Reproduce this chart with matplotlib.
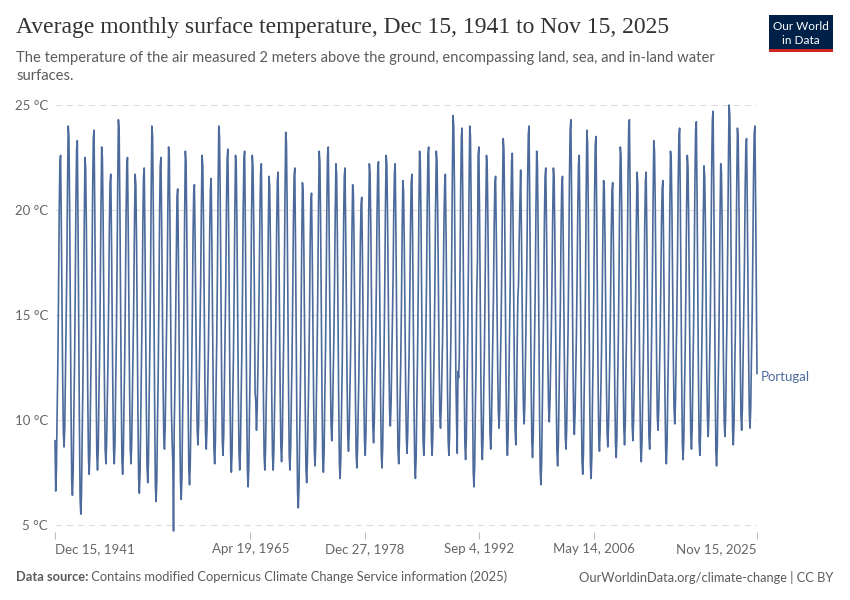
import matplotlib
matplotlib.use("Agg")
import matplotlib.pyplot as plt
import matplotlib.dates as mdates
from matplotlib.patches import Rectangle
import pandas as pd
import numpy as np

# ---------------- data (monthly mean surface temperature, Portugal, °C) ----------------
temps_1940s = [
    9.0,
    6.6, 7.6, 10.1, 12.4, 15.6, 19.7, 22.2, 22.6, 19.5, 15.6, 12.0, 9.4,
    8.7, 9.7, 12.0, 14.2, 17.2, 21.2, 24.0, 23.5, 20.1, 15.2, 10.6, 7.1,
    6.4, 7.4, 10.1, 12.5, 15.9, 20.3, 22.9, 23.3, 19.4, 14.4, 9.8, 6.2,
    5.5, 6.5, 9.2, 11.6, 15.0, 19.4, 22.5, 22.0, 19.2, 15.0, 11.1, 8.2,
    7.4, 8.4, 11.0, 13.3, 16.6, 20.9, 23.4, 23.8, 20.2, 15.7, 11.5, 8.3,
    7.6, 8.6, 11.0, 13.1, 16.2, 20.2, 23.0, 22.5, 19.7, 15.4, 11.5, 8.6,
    7.9, 8.9, 10.9, 12.8, 15.6, 19.2, 21.3, 21.7, 18.7, 14.8, 11.2, 8.6,
    7.9, 8.9, 11.5, 13.8, 17.1, 21.3, 24.3, 23.8, 20.5, 15.8, 11.4, 8.1,
]
temps_1950s = [
    7.4, 8.4, 10.7, 12.8, 15.9, 19.8, 22.1, 22.5, 19.3, 15.2, 11.4, 8.6,
    7.9, 8.9, 10.9, 12.8, 15.6, 19.2, 21.7, 21.2, 18.4, 14.1, 10.2, 7.2,
    6.5, 7.5, 9.9, 12.1, 15.2, 19.2, 21.6, 22.0, 18.7, 14.5, 10.6, 7.8,
    7.0, 8.0, 10.8, 13.2, 16.5, 21.0, 24.0, 23.5, 20.1, 15.1, 10.4, 6.8,
    6.1, 7.1, 9.7, 12.0, 15.3, 19.6, 22.1, 22.5, 19.4, 15.5, 11.9, 9.3,
    8.6, 9.6, 11.7, 13.8, 16.6, 20.4, 23.0, 22.5, 19.0, 14.5, 10.5, 9.0,
    8.0, 4.7, 9.5, 11.5, 14.5, 18.0, 20.6, 21.0, 17.8, 13.6, 9.8, 7.0,
    6.2, 7.2, 9.9, 12.2, 15.5, 19.8, 22.8, 22.3, 19.3, 14.9, 10.7, 7.6,
    6.9, 7.9, 10.1, 12.0, 14.9, 18.6, 20.8, 21.2, 18.5, 15.0, 11.8, 9.5,
    8.8, 9.8, 11.8, 13.8, 16.5, 20.1, 22.6, 22.1, 19.5, 15.6, 11.9, 9.3,
]
temps_1960s = [
    8.6, 9.6, 11.4, 13.2, 15.8, 19.1, 21.0, 21.5, 18.5, 14.7, 11.1, 8.6,
    7.9, 8.9, 11.4, 13.7, 16.9, 21.1, 24.0, 23.5, 20.6, 16.2, 12.1, 9.0,
    8.3, 9.3, 11.5, 13.6, 16.5, 20.3, 22.5, 22.9, 19.5, 15.2, 11.2, 8.3,
    7.5, 8.5, 10.9, 13.0, 16.0, 19.9, 22.6, 22.1, 19.3, 15.1, 11.2, 8.4,
    7.6, 8.6, 11.0, 13.1, 16.1, 20.1, 22.4, 22.8, 19.3, 14.8, 10.7, 7.6,
    6.8, 7.8, 10.3, 12.5, 15.7, 19.8, 22.6, 22.1, 19.7, 16.1, 11.3, 10.9,
    9.5, 10.5, 12.3, 14.1, 16.6, 19.9, 21.8, 22.2, 19.0, 14.9, 11.1, 8.3,
    7.6, 8.6, 10.7, 12.6, 15.4, 19.1, 21.6, 21.1, 18.5, 14.6, 11.0, 8.3,
    7.6, 8.6, 10.7, 12.7, 15.6, 19.2, 21.4, 21.8, 18.8, 14.9, 11.3, 8.7,
    8.0, 9.0, 11.5, 13.7, 16.8, 20.9, 23.7, 23.2, 20.2, 15.7, 11.5, 8.3,
]
temps_1970s = [
    7.6, 8.6, 10.8, 12.8, 15.7, 19.4, 21.6, 22.0, 18.4, 13.9, 9.7, 6.5,
    5.8, 6.8, 9.2, 11.4, 14.5, 18.5, 21.3, 20.8, 18.2, 14.2, 10.4, 7.7,
    7.0, 8.0, 10.0, 12.0, 14.7, 18.3, 20.4, 20.8, 17.9, 14.3, 10.9, 8.5,
    7.8, 8.8, 11.1, 13.2, 16.2, 20.1, 22.8, 22.3, 19.4, 15.2, 11.2, 8.2,
    7.5, 8.5, 10.9, 13.1, 16.2, 20.2, 22.6, 23.0, 19.9, 16.0, 12.4, 9.8,
    9.0, 10.0, 11.9, 13.8, 16.4, 19.8, 22.2, 21.7, 18.9, 14.7, 10.8, 7.9,
    7.2, 8.2, 10.4, 12.5, 15.5, 19.3, 21.6, 22.0, 19.0, 15.3, 11.7, 9.2,
    8.5, 9.5, 11.3, 13.1, 15.6, 19.0, 21.2, 20.8, 18.3, 14.5, 11.0, 8.4,
    7.7, 8.7, 10.5, 12.3, 14.9, 18.3, 20.2, 20.6, 17.9, 14.5, 11.3, 9.0,
    8.3, 9.3, 11.4, 13.3, 16.1, 19.7, 22.2, 21.7, 19.3, 15.6, 12.1, 9.6,
]
temps_1980s = [
    8.9, 9.9, 11.9, 13.7, 16.4, 19.9, 21.9, 22.3, 19.1, 15.0, 11.2, 8.4,
    7.7, 8.7, 11.0, 13.1, 16.1, 20.0, 22.6, 22.2, 19.8, 16.2, 12.8, 10.4,
    9.7, 10.7, 12.5, 14.2, 16.7, 20.0, 21.8, 22.2, 19.1, 15.1, 11.3, 8.6,
    7.9, 8.9, 10.9, 12.7, 15.4, 18.9, 21.4, 20.9, 18.5, 14.9, 11.6, 9.2,
    8.4, 9.4, 11.4, 13.2, 15.9, 19.3, 21.3, 21.7, 18.5, 14.4, 10.6, 7.9,
    7.2, 8.2, 10.6, 12.8, 15.9, 20.0, 22.8, 22.3, 19.6, 15.6, 11.8, 9.0,
    8.3, 9.3, 11.5, 13.6, 16.5, 20.4, 22.6, 23.0, 19.8, 15.7, 11.8, 9.0,
    8.3, 9.3, 11.5, 13.5, 16.4, 20.2, 22.8, 22.3, 19.9, 16.2, 12.8, 10.3,
    9.6, 10.6, 12.3, 13.9, 16.4, 19.5, 21.2, 21.7, 18.7, 15.0, 11.5, 9.0,
    8.3, 9.3, 11.9, 14.2, 17.4, 21.6, 24.5, 24.0, 21.0, 16.4, 12.2, 10.0,
]
temps_1990s = [
    8.4, 12.3, 12.0, 13.0, 17.1, 21.1, 23.5, 23.9, 20.4, 16.0, 11.9, 8.8,
    8.1, 9.1, 11.6, 13.8, 17.0, 21.1, 24.0, 23.5, 20.2, 15.4, 10.9, 7.5,
    6.8, 7.8, 10.4, 12.7, 16.0, 17.6, 22.6, 23.0, 19.8, 15.6, 11.7, 8.8,
    8.1, 9.1, 11.3, 13.3, 16.2, 20.0, 22.6, 22.1, 19.5, 15.6, 12.0, 9.4,
    8.6, 9.6, 11.5, 13.3, 15.9, 19.2, 21.2, 21.6, 18.9, 15.6, 12.5, 10.4,
    9.6, 10.6, 12.7, 14.6, 17.4, 20.9, 23.4, 22.9, 20.1, 15.9, 11.9, 9.0,
    8.3, 9.3, 11.5, 13.5, 16.4, 20.1, 22.3, 22.7, 19.6, 15.8, 12.1, 9.5,
    8.8, 10.5, 13.5, 15.8, 16.5, 18.8, 20.5, 21.9, 19.2, 15.8, 12.7, 10.5,
    9.8, 10.8, 12.9, 14.9, 17.7, 21.4, 23.6, 24.0, 20.5, 16.1, 12.0, 9.0,
    8.2, 9.2, 11.4, 13.5, 16.4, 20.2, 22.8, 22.3, 19.3, 14.9, 10.7, 7.6,
]
temps_2000s = [
    6.9, 7.9, 10.2, 12.3, 15.4, 19.3, 21.6, 22.0, 19.3, 16.0, 12.8, 10.6,
    9.9, 10.9, 12.6, 14.3, 16.7, 19.8, 22.0, 21.5, 18.9, 14.9, 11.2, 8.5,
    7.8, 8.8, 10.8, 12.8, 15.5, 19.2, 21.2, 21.6, 18.8, 15.1, 11.7, 9.2,
    8.6, 9.6, 12.0, 14.2, 17.4, 21.5, 23.8, 24.3, 21.0, 16.8, 12.9, 10.0,
    9.3, 10.3, 12.2, 14.1, 16.8, 20.2, 22.2, 22.6, 19.2, 15.0, 11.0, 8.0,
    7.4, 8.4, 11.0, 13.2, 16.5, 20.8, 23.8, 23.2, 20.1, 15.5, 11.2, 7.9,
    7.2, 8.2, 10.8, 13.1, 16.3, 20.6, 23.1, 23.5, 20.2, 16.0, 12.1, 9.2,
    8.5, 9.5, 11.3, 13.2, 15.8, 19.1, 21.4, 21.0, 18.6, 15.1, 11.8, 9.4,
    8.7, 9.7, 11.5, 13.2, 15.8, 19.0, 20.9, 21.3, 18.4, 14.8, 11.3, 8.9,
    8.2, 9.2, 11.5, 13.6, 16.5, 20.4, 23.0, 22.5, 19.9, 16.0, 12.3, 9.6,
]
temps_2010s = [
    8.8, 9.8, 12.3, 14.4, 17.5, 21.5, 23.9, 24.3, 20.9, 16.7, 12.7, 9.7,
    9.0, 10.0, 11.8, 13.6, 16.1, 19.5, 21.8, 21.2, 18.7, 14.9, 11.3, 8.7,
    8.0, 9.0, 11.0, 13.0, 15.7, 19.3, 21.4, 21.8, 18.8, 15.2, 11.7, 9.2,
    8.6, 9.6, 11.8, 13.9, 16.8, 20.6, 23.3, 22.8, 20.3, 16.4, 12.8, 10.2,
    9.5, 10.5, 12.1, 13.8, 16.2, 19.3, 21.0, 21.4, 18.4, 14.7, 11.1, 8.6,
    7.9, 8.9, 11.2, 13.3, 16.2, 20.1, 22.8, 22.3, 20.0, 16.3, 13.0, 10.6,
    9.8, 10.8, 12.9, 14.9, 17.7, 21.4, 23.5, 23.9, 20.4, 16.0, 11.9, 8.8,
    8.1, 9.1, 11.3, 13.3, 16.2, 20.0, 22.6, 22.1, 19.5, 15.6, 12.0, 9.3,
    8.6, 9.6, 12.0, 14.2, 17.3, 21.4, 23.8, 24.2, 20.7, 16.2, 12.1, 9.0,
    8.3, 9.3, 11.3, 13.3, 16.0, 19.6, 22.1, 21.6, 19.3, 15.7, 12.3, 10.0,
]
temps_2020s = [
    9.2, 10.2, 12.7, 14.8, 17.9, 21.9, 24.3, 24.7, 21.0, 16.3, 11.9, 8.5,
    7.8, 8.8, 11.0, 13.0, 15.9, 19.7, 22.2, 21.8, 19.4, 15.7, 12.3, 9.9,
    9.2, 10.2, 12.7, 14.9, 18.1, 22.2, 25.0, 24.5, 21.4, 16.9, 12.7, 9.5,
    8.8, 9.8, 12.1, 14.2, 17.3, 21.2, 23.9, 23.4, 20.7, 16.7, 13.0, 10.2,
    9.5, 10.5, 12.6, 14.5, 17.3, 20.9, 23.0, 23.4, 20.4, 16.5, 12.9, 10.3,
    9.6, 10.6, 12.8, 14.8, 17.7, 21.4, 23.6, 24.0, 20.5, 16.5, 12.2,
]
series_name = "Portugal"
start_date = "1941-12-15"
end_date = "2025-11-15"
tick_dates = ["1941-12-15", "1965-04-19", "1978-12-27", "1992-09-04", "2006-05-14", "2025-11-15"]
tick_labels = ["Dec 15, 1941", "Apr 19, 1965", "Dec 27, 1978", "Sep 4, 1992", "May 14, 2006", "Nov 15, 2025"]
y_ticks = [5, 10, 15, 20, 25]
y_tick_labels = ["5 °C", "10 °C", "15 °C", "20 °C", "25 °C"]

title = "Average monthly surface temperature, Dec 15, 1941 to Nov 15, 2025"
subtitle_1 = "The temperature of the air measured 2 meters above the ground, encompassing land, sea, and in-land water"
subtitle_2 = "surfaces."
source_bold = "Data source:"
source_rest = " Contains modified Copernicus Climate Change Service information (2025)"
footer_right = "OurWorldinData.org/climate-change | CC BY"

# ---------------- build ----------------
values = np.array(temps_1940s + temps_1950s + temps_1960s + temps_1970s + temps_1980s
                  + temps_1990s + temps_2000s + temps_2010s + temps_2020s)
dates = pd.date_range("1941-12-01", periods=len(values), freq="MS") + pd.Timedelta(days=14)

W, H = 850, 600
fig = plt.figure(figsize=(W / 100, H / 100), dpi=100)
fig.patch.set_facecolor("white")

def fx(px):
    return px / W

def fy(py):
    return 1 - py / H

LINE = "#4c6a9c"
GRID = "#dddddd"
TXT = "#5b5b5b"

ax_l, ax_r, ax_t, ax_b = 55, 757, 105, 532
ax = fig.add_axes([fx(ax_l), fy(ax_b), fx(ax_r - ax_l), (ax_b - ax_t) / H])
ax.plot(dates, values, color=LINE, lw=1.2, solid_joinstyle="round", clip_on=False, zorder=3)

ax.set_xlim(pd.Timestamp(start_date), pd.Timestamp(end_date))
ax.set_ylim(4.65, 25.0)
for s in ax.spines.values():
    s.set_visible(False)

ax.set_yticks(y_ticks)
ax.set_yticklabels(y_tick_labels, fontfamily="Lato", fontsize=9.5, color="#666666")
ax.tick_params(axis="y", length=0, pad=5)
for yv in y_ticks:
    ax.axhline(yv, color=GRID, lw=0.8, ls=(0, (6, 4)), zorder=1)

tpos = [pd.Timestamp(d) for d in tick_dates]
ax.set_xticks(tpos)
ax.set_xticklabels(tick_labels, fontfamily="Lato", fontsize=9.5, color="#666666")
ax.tick_params(axis="x", length=5, width=0.8, color="#bbbbbb", pad=3)
xl = ax.get_xticklabels()
xl[0].set_horizontalalignment("left")
xl[-1].set_horizontalalignment("right")

fig.text(fx(761), fy(377), series_name, fontfamily="Lato", fontsize=9.5, color=LINE,
         ha="left", va="center")

# Title & subtitle
fig.text(fx(16), fy(27), title, fontfamily="Liberation Serif", fontsize=17.0, color="#333333",
         ha="left", va="center")
fig.text(fx(16), fy(58), subtitle_1, fontfamily="Lato", fontsize=10.65, color=TXT, ha="left", va="center")
fig.text(fx(16), fy(76), subtitle_2, fontfamily="Lato", fontsize=10.65, color=TXT, ha="left", va="center")

# Logo
fig.patches.append(Rectangle((fx(769), fy(52)), fx(64), (52 - 15) / H, transform=fig.transFigure,
                             facecolor="#002147", edgecolor="none", zorder=5))
fig.patches.append(Rectangle((fx(769), fy(52)), fx(64), 3 / H, transform=fig.transFigure,
                             facecolor="#ce261e", edgecolor="none", zorder=6))
fig.text(fx(801), fy(27), "Our World", fontfamily="Lato", fontsize=8.5, color="white",
         ha="center", va="center", zorder=7)
fig.text(fx(801), fy(40), "in Data", fontfamily="Lato", fontsize=8.5, color="white",
         ha="center", va="center", zorder=7)

# Footer
r = fig.canvas.get_renderer()
t1 = fig.text(fx(16), fy(577), source_bold, fontfamily="Lato", fontsize=9.3, color=TXT,
              fontweight="bold", ha="left", va="center")
bb = t1.get_window_extent(renderer=r)
fig.text(bb.x1 / W, fy(577), source_rest, fontfamily="Lato", fontsize=9.3, color=TXT,
         ha="left", va="center")
fig.text(fx(833), fy(577), footer_right, fontfamily="Lato", fontsize=9.3, color=TXT,
         ha="right", va="center")

fig.savefig("out.png", dpi=100, facecolor="white")
